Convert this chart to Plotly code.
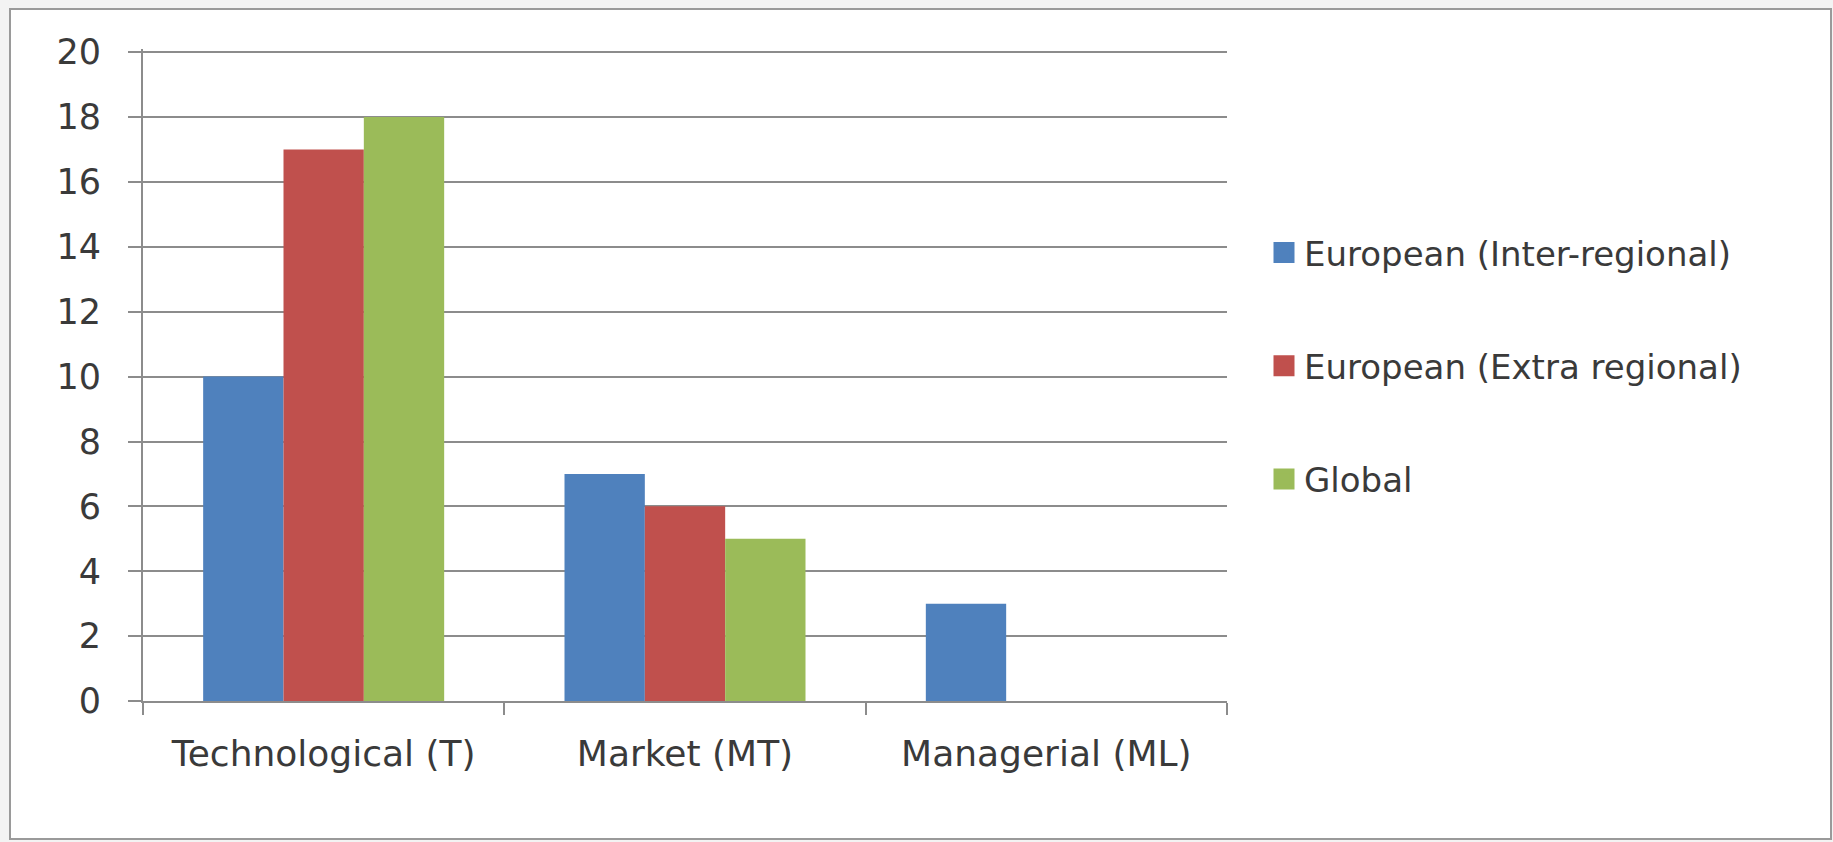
import plotly.graph_objects as go

categories = ["Technological (T)", "Market (MT)", "Managerial (ML)"]
series_names = ["European (Inter-regional)", "European (Extra regional)", "Global"]
inter_regional = [10, 7, 3]
extra_regional = [17, 6, 0]
global_vals = [18, 5, 0]
colors = ["#4F81BD", "#C0504D", "#9BBB59"]
y_ticks = [0, 2, 4, 6, 8, 10, 12, 14, 16, 18, 20]

W, H = 1833, 842
L, R, T, B = 143, 1227, 49, 701
Y_MAX = 20.1

fig = go.Figure()
for i, (name, vals) in enumerate(zip(series_names, [inter_regional, extra_regional, global_vals])):
    fig.add_trace(go.Bar(x=categories, y=vals, name=name, marker_color=colors[i],
                         marker_line_width=0, showlegend=False))
# legend entries with larger square swatches
for i, name in enumerate(series_names):
    fig.add_trace(go.Scatter(x=[None], y=[None], mode="markers", name=name,
                             marker=dict(symbol="square", size=16, color=colors[i],
                                         line=dict(color=colors[i], width=8)),
                             legendgroup=str(i), showlegend=True))

font_family = "'DejaVu Sans', sans-serif"
fig.update_layout(
    width=W, height=H,
    margin=dict(l=L, r=W - R, t=T, b=H - B, pad=0),
    paper_bgcolor="#f3f3f3",
    plot_bgcolor="rgba(0,0,0,0)",
    barmode="group",
    bargap=0.333,
    bargroupgap=0,
    font=dict(family=font_family, size=36, color="#3a3a3a"),
    showlegend=True,
    legend=dict(x=(1264 - L) / (R - L), xanchor="left", y=(B - 224) / (B - T), yanchor="top",
                tracegroupgap=66, traceorder="grouped", bgcolor="rgba(0,0,0,0)",
                itemsizing="trace",
                font=dict(size=34, family=font_family, color="#3a3a3a"), itemwidth=30),
    xaxis=dict(showline=True, linecolor="#8c8c8c", linewidth=2, ticks="outside", tickson="boundaries",
               ticklen=12, tickcolor="#8c8c8c", tickwidth=2, showgrid=False,
               tickfont=dict(size=36), ticklabelstandoff=20),
    yaxis=dict(range=[0, Y_MAX], tickvals=y_ticks, showline=True, linecolor="#8c8c8c", linewidth=2,
               ticks="outside", ticklen=13, tickcolor="#8c8c8c", tickwidth=2,
               showgrid=True, gridcolor="#8c8c8c", gridwidth=2, zeroline=False,
               tickfont=dict(size=35), ticklabelstandoff=20),
)

# white card with gray frame behind everything
fig.add_shape(type="rect", xref="paper", yref="paper", layer="below",
              x0=(10 - L) / (R - L), x1=(1831 - L) / (R - L),
              y0=(B - 839) / (B - T), y1=(B - 9) / (B - T),
              fillcolor="white", line=dict(color="#9a9a9a", width=2))

fig.write_html("out.html")
